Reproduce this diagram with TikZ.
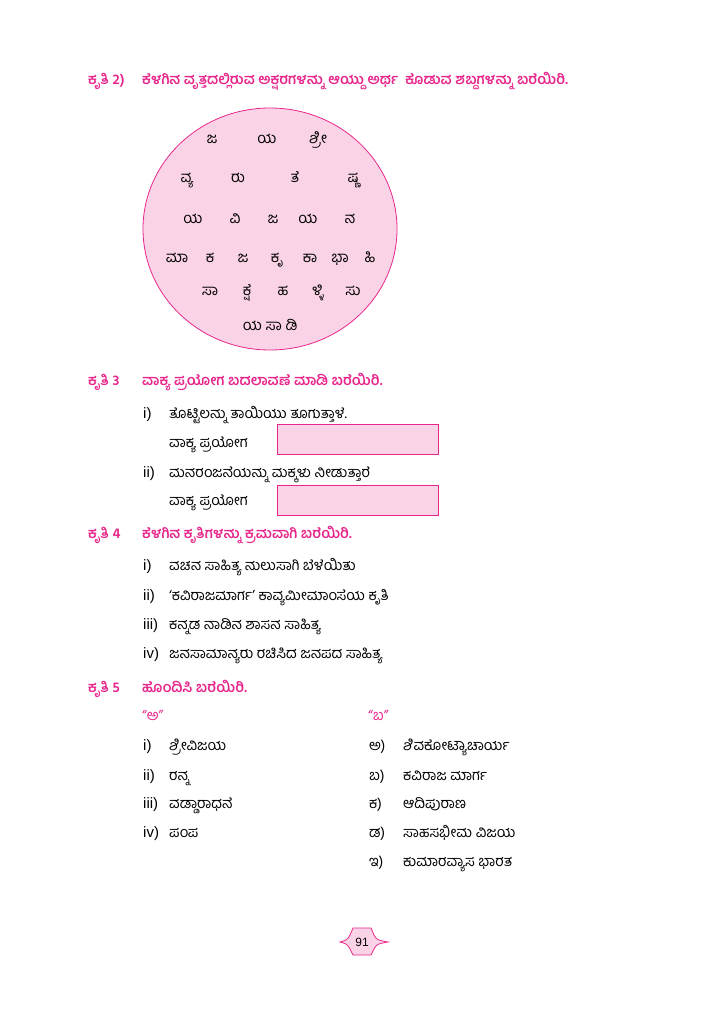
\documentclass[tikz,border=0pt]{standalone}
\usepackage{fontspec}
\setmainfont{Liberation Sans}
\newfontfamily\kan[Script=Kannada]{Hind Mysuru}
\definecolor{kn_pink}{RGB}{231, 38, 139}
\definecolor{kn_fill}{RGB}{250, 212, 230}
\tikzstyle{kr}=[anchor=base west,inner sep=0pt,text=kn_pink,
  font=\kan\bfseries\fontsize{14.3}{16}\selectfont]
\tikzstyle{ln}=[anchor=base west,inner sep=0pt,
  font=\kan\fontsize{14.6}{16}\selectfont]
\tikzstyle{nm}=[anchor=base west,inner sep=0pt,
  font=\fontsize{15}{17}\selectfont]
\tikzstyle{ak}=[anchor=base,inner sep=0pt,
  font=\kan\fontsize{15}{17}\selectfont]
\tikzstyle{bx}=[draw=kn_pink,fill=kn_fill,line width=0.8 pt,
  anchor=north west,minimum width=161pt,minimum height=30pt,inner sep=0pt]
\begin{document}
\begin{tikzpicture}[x=1pt,y=-1pt]
    \useasboundingbox (0,0) rectangle (724,1024);
    % kruti 2
    \node [style=kr] (k2) at (88,85) {ಕೃತಿ 2)};
    \node [style=kr] (k2t) at (142,85) {ಕೆಳಗಿನ ವೃತ್ತದಲ್ಲಿರುವ ಅಕ್ಷರಗಳನ್ನು ಆಯ್ದು ಅರ್ಥ \ ಕೊಡುವ ಶಬ್ದಗಳನ್ನು ಬರೆಯಿರಿ.};
    \draw [draw=kn_pink,fill=kn_fill,line width=0.8 pt] (270,229) ellipse [x radius=127pt,y radius=121pt];
    \node [style=ak] (a1) at (212,144) {ಜ};
    \node [style=ak] (a2) at (267,144) {ಯ};
    \node [style=ak] (a3) at (318,144) {ಶ್ರೀ};
    \node [style=ak] (b1) at (187,183) {ವ್ಯ};
    \node [style=ak] (b2) at (238,183) {ರು};
    \node [style=ak] (b3) at (295,183) {ತೆ};
    \node [style=ak] (b4) at (353,183) {ಷ್ಣ};
    \node [style=ak] (c1) at (193,223) {ಯ};
    \node [style=ak] (c2) at (235,223) {ವಿ};
    \node [style=ak] (c3) at (273,223) {ಜ};
    \node [style=ak] (c4) at (308,223) {ಯ};
    \node [style=ak] (c5) at (350,223) {ನ};
    \node [style=ak] (d1) at (177,262) {ಮಾ};
    \node [style=ak] (d2) at (210,262) {ಕ};
    \node [style=ak] (d3) at (243,262) {ಜ};
    \node [style=ak] (d4) at (277,262) {ಕೃ};
    \node [style=ak] (d5) at (310,262) {ಕಾ};
    \node [style=ak] (d6) at (340,262) {ಭಾ};
    \node [style=ak] (d7) at (370,262) {ಹಿ};
    \node [style=ak] (e1) at (210,295) {ಸಾ};
    \node [style=ak] (e2) at (247,295) {ಕ್ಷೆ};
    \node [style=ak] (e3) at (283,295) {ಹ};
    \node [style=ak] (e4) at (318,295) {ಳ್ಳಿ};
    \node [style=ak] (e5) at (353,295) {ಸು};
    \node [style=ak] (f1) at (270,330) {ಯ ಸಾ ಡಿ};
    % kruti 3
    \node [style=kr] (k3) at (88,385) {ಕೃತಿ 3};
    \node [style=kr] (k3t) at (142,385) {ವಾಕ್ಯ ಪ್ರಯೋಗ ಬದಲಾವಣೆ ಮಾಡಿ ಬರೆಯಿರಿ.};
    \node [style=nm] (n3a) at (143,418) {i)};
    \node [style=ln] (s3a) at (169,418) {ತೊಟ್ಟಿಲನ್ನು ತಾಯಿಯು ತೂಗುತ್ತಾಳೆ.};
    \node [style=ln] (v3a) at (169,447) {ವಾಕ್ಯ ಪ್ರಯೋಗ};
    \node [style=bx] (bx3a) at (277,424) {};
    \node [style=nm] (n3b) at (143,477) {ii)};
    \node [style=ln] (s3b) at (169,477) {ಮನರಂಜನೆಯನ್ನು ಮಕ್ಕಳು ನೀಡುತ್ತಾರೆ};
    \node [style=ln] (v3b) at (169,505) {ವಾಕ್ಯ ಪ್ರಯೋಗ};
    \node [style=bx] (bx3b) at (277,485) {};
    % kruti 4
    \node [style=kr] (k4) at (88,538) {ಕೃತಿ 4};
    \node [style=kr] (k4t) at (142,538) {ಕೆಳಗಿನ ಕೃತಿಗಳನ್ನು ಕ್ರಮವಾಗಿ ಬರೆಯಿರಿ.};
    \node [style=nm] (n4a) at (143,570) {i)};
    \node [style=ln] (s4a) at (169,570) {ವಚನ ಸಾಹಿತ್ಯ ಹುಲುಸಾಗಿ ಬೆಳೆಯಿತು};
    \node [style=nm] (n4b) at (143,600) {ii)};
    \node [style=ln] (s4b) at (169,600) {‘ಕವಿರಾಜಮಾರ್ಗ’ ಕಾವ್ಯಮೀಮಾಂಸೆಯ ಕೃತಿ};
    \node [style=nm] (n4c) at (143,629) {iii)};
    \node [style=ln] (s4c) at (169,629) {ಕನ್ನಡ ನಾಡಿನ ಶಾಸನ ಸಾಹಿತ್ಯ};
    \node [style=nm] (n4d) at (143,658) {iv)};
    \node [style=ln] (s4d) at (169,658) {ಜನಸಾಮಾನ್ಯರು ರಚಿಸಿದ ಜನಪದ ಸಾಹಿತ್ಯ};
    % kruti 5
    \node [style=kr] (k5) at (88,692) {ಕೃತಿ 5};
    \node [style=kr] (k5t) at (142,692) {ಹೊಂದಿಸಿ ಬರೆಯಿರಿ.};
    \node [style=ln,text=kn_pink] (qa) at (142,720) {“ಅ”};
    \node [style=ln,text=kn_pink] (qb) at (368,720) {“ಬ”};
    \node [style=nm] (n5a) at (143,750) {i)};
    \node [style=ln] (s5a) at (169,750) {ಶ್ರೀವಿಜಯ};
    \node [style=nm] (n5b) at (143,780) {ii)};
    \node [style=ln] (s5b) at (169,780) {ರನ್ನ};
    \node [style=nm] (n5c) at (143,808) {iii)};
    \node [style=ln] (s5c) at (169,808) {ವಡ್ಡಾರಾಧನೆ};
    \node [style=nm] (n5d) at (143,837) {iv)};
    \node [style=ln] (s5d) at (169,837) {ಪಂಪ};
    \node [style=ln] (m5a) at (369,750) {ಅ)};
    \node [style=ln] (t5a) at (403,750) {ಶಿವಕೋಟ್ಯಾಚಾರ್ಯ};
    \node [style=ln] (m5b) at (369,780) {ಬ)};
    \node [style=ln] (t5b) at (403,780) {ಕವಿರಾಜ ಮಾರ್ಗ};
    \node [style=ln] (m5c) at (369,808) {ಕ)};
    \node [style=ln] (t5c) at (403,808) {ಆದಿಪುರಾಣ};
    \node [style=ln] (m5d) at (369,837) {ಡ)};
    \node [style=ln] (t5d) at (403,837) {ಸಾಹಸಭೀಮ ವಿಜಯ};
    \node [style=ln] (m5e) at (369,866) {ಇ)};
    \node [style=ln] (t5e) at (403,866) {ಕುಮಾರವ್ಯಾಸ ಭಾರತ};
    % page number
    \draw [draw=kn_pink,fill=kn_fill,line width=0.8 pt] (353,928) -- (371,928) -- (374,935)
      .. controls (377,940) .. (388,942) .. controls (377,944) .. (374,949) -- (371,955)
      -- (353,955) -- (350,949) .. controls (347,944) .. (340,942)
      .. controls (347,940) .. (350,935) -- cycle;
    \node [font=\fontsize{12}{14}\selectfont] (pg) at (362,942) {91};
\end{tikzpicture}
\end{document}
